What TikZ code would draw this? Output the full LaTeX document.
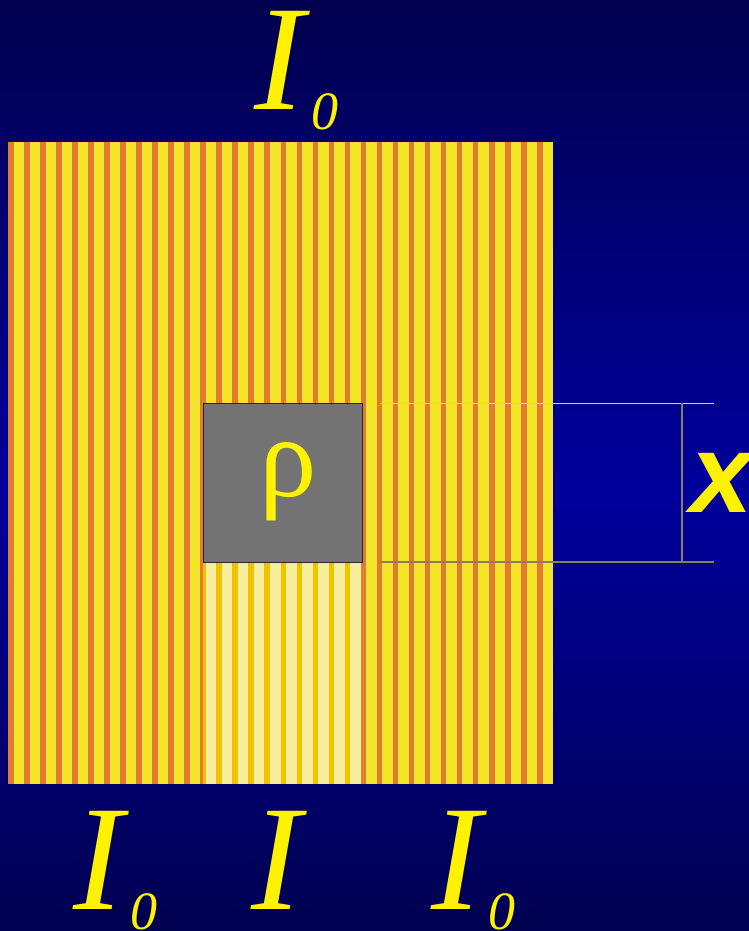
\documentclass[tikz,border=0pt]{standalone}
\usepackage{fontspec}
\setmainfont{Liberation Serif}
\newfontfamily\arialf{Liberation Sans}
\definecolor{bgtop}{RGB}{0,0,78}
\definecolor{bgmid}{RGB}{0,0,156}
\definecolor{bgbot}{RGB}{0,0,78}
\definecolor{stripey}{RGB}{244,229,42}
\definecolor{stripeo}{RGB}{226,124,48}
\definecolor{shpale}{RGB}{247,239,156}
\definecolor{shgold}{RGB}{242,194,0}
\definecolor{boxgray}{RGB}{115,115,115}
\definecolor{txty}{RGB}{255,242,0}
\definecolor{linetop}{RGB}{215,210,180}
\definecolor{lineolive}{RGB}{140,128,90}
\tikzset{
  biglabel/.style={text=txty, inner sep=0pt, anchor=base west, text height=100pt, text depth=0pt, font=\fontsize{150}{150}\selectfont\itshape},
  sublabel/.style={text=txty, inner sep=0pt, anchor=base west, text height=37pt, text depth=0pt, font=\fontsize{54}{54}\selectfont\itshape}
}
\begin{document}
\begin{tikzpicture}[x=1pt,y=-1pt]
\useasboundingbox (0,0) rectangle (749,931);
% background gradient, dark at top and bottom, brighter in the middle
\foreach \i in {0,...,48} {
  \pgfmathsetmacro{\p}{100*\i/48}
  \fill[bgmid!\p!bgtop] (0,{\i*10}) rectangle (749,{\i*10+10.5});
}
\foreach \i in {0,...,45} {
  \pgfmathsetmacro{\p}{100*\i/45}
  \fill[bgbot!\p!bgmid] (0,{490+\i*10}) rectangle (749,{490+\i*10+10.5});
}
% striped square
\fill[stripey] (8,142) rectangle (553,784);
\foreach \k in {0,...,33} \fill[stripeo] ({8+16.03*\k},142) rectangle ++(5.6,642);
% shadow
\begin{scope}
\clip (203,562) rectangle (361,784);
\fill[shpale] (203,562) rectangle (361,784);
\foreach \k in {0,...,33} \fill[shgold] ({8+16.03*\k},562) rectangle ++(5.6,222);
\end{scope}
% box
\node[draw={rgb,255:red,40;green,40;blue,40}, line width=1pt, fill=boxgray, minimum width=159, minimum height=159, inner sep=0pt, anchor=north west] (box) at (203,403) {};
\node[text=txty, inner sep=0pt, anchor=base west, font=\fontsize{115}{115}\selectfont] (rho) at (259,496) {ρ};
% dimension lines
\coordinate (t1) at (380,403);
\coordinate (t2) at (714,403);
\coordinate (b1) at (380,562);
\coordinate (b2) at (714,562);
\coordinate (v1) at (682,403);
\coordinate (v2) at (682,562);
\draw[line width=0.9pt, linetop] (t1) -- (t2);
\draw[line width=1.6pt, lineolive] (b1) -- (b2);
\draw[line width=1.6pt, lineolive] (v1) -- (v2);
\node[text=txty, inner sep=0pt, anchor=base west, font=\arialf\bfseries\itshape\fontsize{112}{112}\selectfont] (xlab) at (690,512) {x};
% intensity labels
\node[biglabel] (Itop) at (254,110) {I};
\node[sublabel] (Itopsub) at (311,130) {0};
\node[biglabel] (Ia) at (73,909) {I};
\node[sublabel] (Iasub) at (130,929) {0};
\node[biglabel] (Ib) at (251,909) {I};
\node[biglabel] (Ic) at (431,909) {I};
\node[sublabel] (Icsub) at (488,929) {0};
\end{tikzpicture}
\end{document}
